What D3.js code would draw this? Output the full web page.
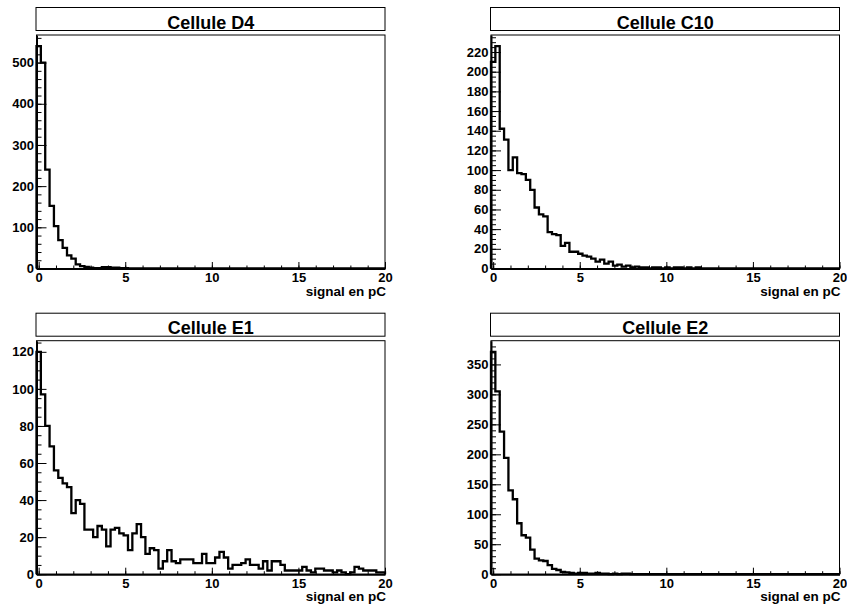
<!DOCTYPE html>
<html><head><meta charset="utf-8">
<script src="https://cdn.jsdelivr.net/npm/d3@7"></script>
<style>
body{margin:0;background:#fff}
svg{display:block}
text{font-family:"Liberation Sans",Arial,Helvetica,sans-serif;font-weight:bold;fill:#000}
</style>
</head><body>
<svg id="c" width="847" height="608"></svg>
<script>
// ---- data ----
const titles = ["Cellule D4", "Cellule C10", "Cellule E1", "Cellule E2"];
const xLabel = "signal en pC";
const xRange = [-0.125, 20];
const nBins = 80;
const xMajorTicks = [0, 5, 10, 15, 20];
const xMinorTicks = [0,1,2,3,4,5,6,7,8,9,10,11,12,13,14,15,16,17,18,19,20];

const countsD4 = [540,500,240,152,103,69,50,32,24,10,6,4,2,1,1,3,3,2,2,1,
                  1,0,0,0,0,0,0,0,0,0,0,0,0,0,0,0,0,0,0,0,
                  0,0,0,0,0,0,0,0,0,0,0,0,0,0,0,0,0,0,0,0,
                  0,0,0,0,0,0,0,0,0,0,0,0,0,0,0,0,0,0,0,0];
const countsC10 = [210,226,142,131,100,113,97,96,90,80,62,55,53,37,35,34,23,26,17,17,
                   15,13,12,10,7,9,5,7,3,4,2,3,1,2,1,1,0,1,1,0,
                   1,0,1,1,0,1,0,1,0,0,0,0,0,0,0,0,0,0,0,0,
                   0,0,0,0,0,0,0,0,0,0,0,0,0,0,0,0,0,0,0,0];
const countsE1 = [120,97,80,69,56,52,49,47,33,40,38,24,24,20,26,24,15,24,25,22,
                  21,13,22,27,20,11,14,13,3,7,13,7,6,8,8,8,6,6,11,6,
                  6,9,12,9,3,5,5,6,8,5,5,3,7,2,7,7,5,2,2,2,
                  2,4,2,1,3,3,2,2,1,2,1,0,1,4,3,2,2,2,1,1];
const countsE2 = [371,305,238,194,140,125,85,65,61,41,26,23,22,15,9,7,4,3,2,1,
                  2,2,1,1,2,1,1,0,1,0,1,1,0,0,0,0,0,0,0,0,
                  0,0,0,0,0,0,0,0,0,0,0,0,0,0,0,0,0,0,0,0,
                  0,0,0,0,0,0,0,0,0,0,0,0,0,0,0,0,0,0,0,0];
const yMajorStep = [100, 20, 20, 50];
const yMinorStep = [20, 5, 5, 10];

// ---- layout ----
const colX = [36.5, 491];
const rowY = [35, 340.7];
const W = 348.5, H = 233.5;
const FONT = '"Liberation Sans",Arial,Helvetica,sans-serif';

const svg = d3.select("#c");
const allCounts = [countsD4, countsC10, countsE1, countsE2];

allCounts.forEach((counts, k) => {
  const L = colX[k % 2], T = rowY[Math.floor(k / 2)], R = L + W, B = T + H;
  const x = d3.scaleLinear().domain(xRange).range([L, R]);
  const ymax = 1.05 * d3.max(counts);
  const y = d3.scaleLinear().domain([0, ymax]).range([B, T]);
  const g = svg.append("g");

  // title box
  g.append("rect").attr("x", L - 0.5).attr("y", T - 27.5).attr("width", W + 0.5).attr("height", 23)
    .attr("fill", "#fff").attr("stroke", "#000").attr("stroke-width", 1);
  g.append("text").attr("x", (L + R) / 2).attr("y", T - 6.5).attr("text-anchor", "middle")
    .style("font-size", "18px").text(titles[k]);

  // frame
  g.append("rect").attr("x", L).attr("y", T).attr("width", W).attr("height", H)
    .attr("fill", "none").attr("stroke", "#000").attr("stroke-width", 1);

  // histogram outline
  const bw = (xRange[1] - xRange[0]) / nBins;
  const pts = [[xRange[0], 0]];
  counts.forEach((v, i) => {
    const x0 = xRange[0] + i * bw;
    pts.push([x0, v], [x0 + bw, v]);
  });
  pts.push([xRange[1], 0]);
  const line = d3.line().x(d => x(d[0])).y(d => y(d[1]));
  g.append("path").attr("d", line(pts)).attr("fill", "none").attr("stroke", "#000")
    .attr("stroke-width", 2.3).attr("stroke-linejoin", "miter");

  // axes
  const styleAxis = sel => {
    sel.attr("font-family", FONT).attr("font-size", 13).attr("font-weight", "bold");
    sel.selectAll("text").attr("fill", "#000");
    sel.selectAll("line").attr("stroke", "#000").attr("stroke-width", 1);
  };
  const xMinor = g.append("g").attr("transform", `translate(0,${B})`)
    .call(d3.axisBottom(x).tickValues(xMinorTicks).tickSize(-3).tickSizeOuter(0).tickFormat(""));
  xMinor.select(".domain").remove();
  styleAxis(xMinor);
  const xAx = g.append("g").attr("transform", `translate(0,${B})`)
    .call(d3.axisBottom(x).tickValues(xMajorTicks).tickSize(-6.5).tickSizeOuter(0).tickPadding(4.3));
  xAx.select(".domain").attr("stroke", "#000").attr("stroke-width", 2);
  styleAxis(xAx);

  const yMaj = d3.range(0, ymax + 1e-9, yMajorStep[k]);
  const yMin = d3.range(0, ymax + 1e-9, yMinorStep[k]);
  const yMinorG = g.append("g").attr("transform", `translate(${L},0)`)
    .call(d3.axisLeft(y).tickValues(yMin).tickSize(-5).tickSizeOuter(0).tickFormat(""));
  yMinorG.select(".domain").remove();
  styleAxis(yMinorG);
  const yAx = g.append("g").attr("transform", `translate(${L},0)`)
    .call(d3.axisLeft(y).tickValues(yMaj).tickSize(-10).tickSizeOuter(0).tickPadding(2.5).tickFormat(d3.format("d")));
  yAx.select(".domain").attr("stroke", "#000").attr("stroke-width", 2);
  styleAxis(yAx);

  // x label
  g.append("text").attr("x", R + 1).attr("y", B + 27).attr("text-anchor", "end")
    .style("font-size", "13.5px").text(xLabel);
});
</script>
</body></html>
